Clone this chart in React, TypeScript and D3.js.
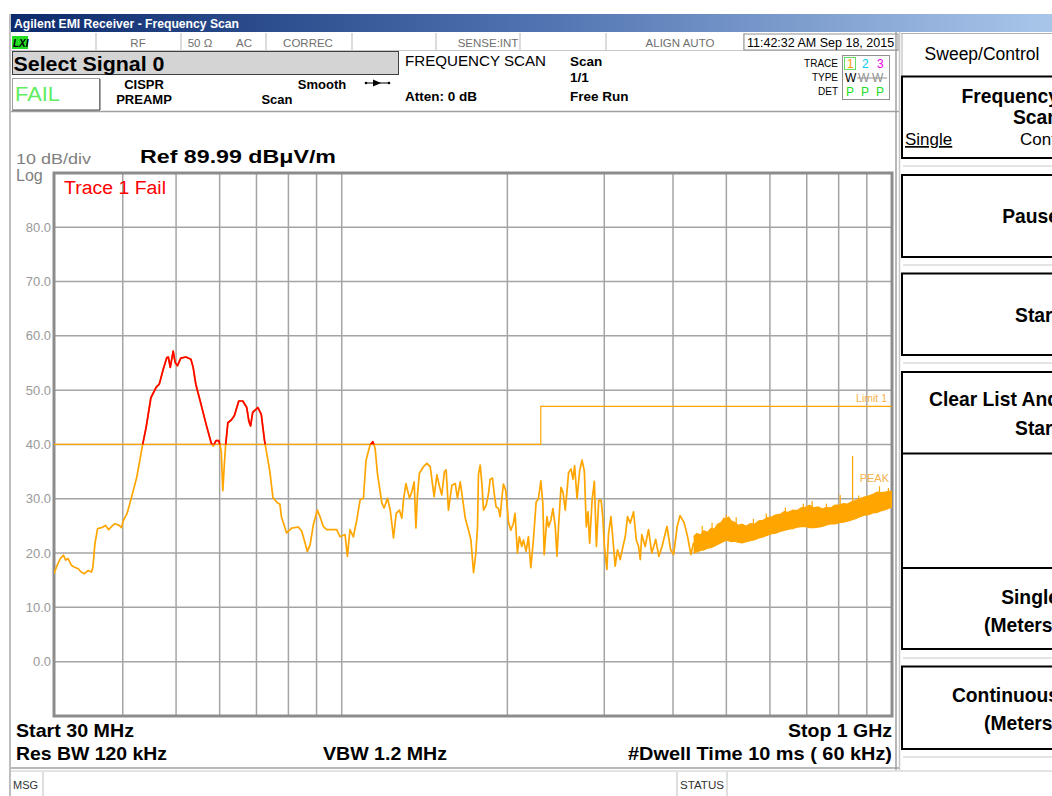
import React from 'react';
import * as d3 from 'd3';

// ---------- data ----------
const startFreq = 30;
const stopFreq = 1000;
const refLevel = 89.99;
const dbPerDiv = 10;

const traceFreq = [
  30.0, 30.3, 30.8, 31.2, 31.5, 31.8, 32.3, 32.7, 33.2, 33.6, 34.1, 34.6, 35.1, 35.3, 35.6, 36.0, 36.7, 37.2, 37.7, 38.2,
  38.7, 39.4, 39.8, 40.1, 40.7, 41.2, 41.8, 42.4, 43.5, 44.1, 45.0, 46.0, 46.6, 47.4, 48.1, 48.4, 48.8, 49.1, 49.4, 49.8,
  50.3, 51.0, 52.1, 53.2, 53.7, 54.3, 55.5, 56.7, 57.9, 58.4, 59.1, 59.8, 60.4, 60.8, 61.2, 61.5, 62.1, 63.0, 63.8, 65.0,
  66.1, 67.2, 67.8, 68.3, 68.9, 70.4, 71.4, 72.4, 74.0, 75.0, 76.3, 77.2, 77.7, 79.4, 81.1, 83.4, 84.6, 85.8, 86.6, 87.6,
  88.8, 90.3, 91.3, 92.6, 93.9, 95.9, 97.9, 99.3, 101.4, 102.4, 103.5, 105.0, 106.5, 108.0, 109.5, 110.7, 112.6, 113.9, 115.0, 116.1,
  118.3, 119.4, 121.1, 122.5, 124.2, 125.6, 127.3, 128.6, 129.5, 130.8, 132.8, 134.1, 135.4, 136.4, 137.3, 138.4, 140.8, 142.8, 144.8, 147.2,
  148.9, 150.6, 152.0, 153.7, 154.8, 156.3, 158.6, 160.8, 162.3, 164.2, 167.7, 170.0, 171.7, 173.6, 175.3, 176.5, 177.2, 178.5, 179.8, 181.0,
  183.0, 184.8, 186.1, 187.9, 189.3, 190.8, 192.7, 194.0, 195.4, 196.7, 198.7, 200.9, 202.9, 205.1, 206.5, 208.6, 210.3, 212.4, 213.9, 216.3,
  218.4, 220.6, 223.0, 225.6, 227.7, 230.1, 232.0, 233.3, 236.0, 237.6, 240.0, 242.0, 244.4, 246.1, 247.8, 250.3, 252.4, 254.8, 256.7, 258.4,
  261.0, 263.2, 265.0, 267.7, 270.6, 273.3, 276.0, 278.3, 280.3, 282.2, 285.1, 287.8, 290.3, 293.1, 296.1, 298.1, 300.2, 303.3, 305.4, 308.5,
  311.1, 314.0, 317.1, 320.7, 324.4, 327.5, 330.7, 334.4, 339.1, 343.0, 346.3, 348.8, 351, 356, 361, 366, 372, 377, 382, 390,
  396, 401, 407, 412, 419, 425, 431, 436
];
const traceLevel = [
  16.2, 17.4, 19.0, 19.6, 18.7, 19.0, 17.7, 17.4, 17.1, 16.5, 16.2, 16.8, 16.5, 17.4, 21.7, 24.5, 24.7, 25.1, 24.3, 24.9,
  25.4, 25.1, 24.7, 26.0, 27.2, 29.1, 31.5, 33.9, 40.1, 43.1, 48.6, 50.5, 51.1, 53.9, 56.0, 56.1, 54.2, 55.7, 57.2, 55.1,
  54.5, 55.9, 56.1, 55.7, 54.2, 51.1, 47.4, 43.7, 40.3, 39.7, 40.7, 40.7, 38.8, 31.5, 36.4, 39.7, 44.0, 44.5, 45.3, 48.0,
  48.0, 46.8, 44.3, 43.4, 45.9, 46.8, 45.6, 40.7, 35.1, 30.2, 29.3, 29.0, 26.7, 23.7, 24.6, 24.8, 24.0, 21.8, 20.3, 21.5,
  25.2, 27.9, 26.7, 24.9, 24.3, 24.3, 24.3, 23.0, 23.4, 19.4, 24.3, 23.0, 26.1, 29.8, 30.1, 37.1, 39.9, 40.5, 39.3, 34.7,
  29.2, 28.3, 30.1, 27.9, 22.8, 27.3, 27.9, 26.4, 29.8, 32.8, 30.1, 31.3, 33.1, 24.6, 30.7, 34.7, 35.9, 36.5, 35.9, 30.4,
  34.4, 32.2, 30.7, 35.0, 35.3, 27.9, 32.5, 32.8, 30.1, 33.1, 26.4, 24.2, 22.4, 16.4, 20.0, 24.8, 34.5, 36.2, 32.7, 27.9,
  28.8, 30.9, 33.6, 33.8, 30.9, 28.5, 28.2, 26.7, 30.0, 32.7, 31.5, 25.7, 24.2, 25.5, 27.3, 20.0, 23.0, 21.2, 22.4, 20.3,
  23.0, 17.3, 22.4, 29.4, 30.0, 33.3, 29.1, 19.7, 26.7, 24.8, 26.1, 28.2, 24.8, 19.4, 25.1, 32.1, 31.2, 27.9, 31.5, 34.8,
  35.5, 33.6, 36.1, 30.0, 35.1, 37.1, 35.1, 24.8, 27.6, 21.8, 29.7, 33.2, 21.2, 29.7, 29.7, 26.7, 21.2, 17.0, 23.6, 26.7,
  22.4, 17.6, 20.6, 18.8, 21.2, 23.0, 26.7, 25.5, 27.6, 22.4, 21.2, 18.8, 23.4, 21.2, 24.3, 20.0, 22.5, 19.4, 21.2, 24.9,
  20.6, 19.7, 24.9, 26.9, 25.6, 23.1, 19.7, 21.9
];

// dense noise band above ~436 MHz: upper and lower edge
const bandFreq = [
  436, 442, 449, 455, 462, 469, 476, 482, 489, 495, 500, 505, 510, 518, 525, 534, 543, 553, 563, 573,
  583, 594, 604, 615, 626, 637, 648, 660, 672, 684, 696, 708, 721, 734, 747, 760, 774, 788, 802, 816,
  830, 845, 860, 875, 891, 907, 923, 940, 956, 973, 990, 1000
];
const bandUpper = [
  23.0, 23.6, 23.3, 24.1, 23.8, 24.5, 24.4, 25.3, 25.6, 26.4, 26.3, 26.6, 25.9, 25.6, 25.1, 25.3, 24.9, 25.4, 25.3, 25.9,
  26.0, 26.5, 26.6, 27.0, 27.1, 27.6, 27.5, 27.9, 27.8, 28.3, 28.4, 28.8, 28.3, 28.5, 28.1, 28.4, 28.3, 28.8, 28.8, 29.1,
  29.0, 29.4, 29.7, 30.0, 30.3, 30.5, 30.8, 31.2, 31.1, 31.2, 31.4, 31.3
];
const bandLower = [
  20.0, 20.2, 20.5, 20.6, 20.9, 21.0, 21.3, 21.6, 21.9, 22.2, 22.4, 22.3, 22.1, 22.2, 22.0, 21.9, 22.1, 22.3, 22.5, 22.8,
  23.0, 23.3, 23.6, 23.7, 24.0, 24.2, 24.4, 24.5, 24.8, 24.9, 24.9, 24.7, 24.7, 24.8, 24.9, 25.2, 25.4, 25.4, 25.6, 25.7,
  25.9, 26.1, 26.4, 26.7, 27.0, 27.1, 27.4, 27.5, 27.8, 28.0, 28.3, 28.5
];
// short noise peaks sticking out of the band
const spikeFreq = [452, 471, 500, 521, 560, 591, 640, 690, 716, 760, 805, 848, 870, 890, 949, 985];
const spikeTop = [25.0, 25.6, 27.0, 26.6, 26.3, 27.3, 28.4, 29.1, 29.6, 29.1, 30.7, 37.9, 30.6, 29.9, 32.3, 32.0];
const spikeBase = [23.5, 24.2, 25.5, 25.0, 24.8, 26.0, 27.3, 28.0, 28.0, 28.0, 28.5, 29.0, 29.5, 30.0, 30.8, 31.0];

const limitFreq = [30, 230, 230, 1000];
const limitLevel = [40, 40, 47, 47];

const yTickValues = [80, 70, 60, 50, 40, 30, 20, 10, 0];
const xGridValues = [40, 50, 60, 70, 80, 90, 100, 200, 300, 400, 500, 600, 700, 800, 900];

const statusLabels = ['RF', '50 Ω', 'AC', 'CORREC', 'SENSE:INT', 'ALIGN AUTO'];

// ---------- layout ----------
const W = 1052;
const H = 796;
const PL = 54, PR = 892, PT = 173, PB = 716;
const SANS = "'Liberation Sans', Arial, Helvetica, sans-serif";
const ORANGE = '#FFA500';

export default function App() {
  const x = d3.scaleLog().domain([startFreq, stopFreq]).range([PL, PR]);
  const y = d3.scaleLinear().domain([refLevel - 10 * dbPerDiv, refLevel]).range([PB, PT]);

  const tracePts: [number, number][] = traceFreq.map((f, i) => [f, traceLevel[i]]);
  const line = d3.line<[number, number]>().x(d => x(d[0])).y(d => y(d[1]));
  const tracePath = line(tracePts) || '';

  const band = d3.area<number>()
    .x((_, i) => x(bandFreq[i]))
    .y0((_, i) => y(bandLower[i]))
    .y1((_, i) => y(bandUpper[i]));
  const bandPath = band(bandFreq) || '';
  const bandUpLine = d3.line<number>().x((_, i) => x(bandFreq[i])).y((_, i) => y(bandUpper[i]))(bandFreq) || '';
  const bandLoLine = d3.line<number>().x((_, i) => x(bandFreq[i])).y((_, i) => y(bandLower[i]))(bandFreq) || '';

  const limitPts: [number, number][] = limitFreq.map((f, i) => [f, limitLevel[i]]);
  const limitPath = line(limitPts) || '';
  const overArea = d3.area<[number, number]>().x(d => x(d[0])).y0(PT - 5).y1(d => y(d[1]))(limitPts) || '';

  const sepX = [96, 181, 266, 352, 436, 520, 606, 744];
  const labelX = [138, 200, 244, 308, 488, 680];

  const btn = (top: number, bottom: number) => (
    <rect x={902} y={top} width={160} height={bottom - top} fill="#fff" stroke="#000" strokeWidth={2} />
  );
  const boldR = (txt: string, yy: number) => (
    <text x={1059} y={yy} textAnchor="end" fontFamily={SANS} fontWeight="bold" fontSize={19.3} fill="#000">{txt}</text>
  );
  const bottomText = (txt: string, xx: number, yy: number, len: number, anchor: string = 'start') => (
    <text x={xx} y={yy} textAnchor={anchor} fontFamily={SANS} fontWeight="bold" fontSize={18.5}
      textLength={len} lengthAdjust="spacingAndGlyphs" fill="#000">{txt}</text>
  );

  return (
    <div style={{ position: 'absolute', left: 0, top: 0 }}>
      <svg width={W} height={H} viewBox={`0 0 ${W} ${H}`} style={{ display: 'block', background: '#fff' }}>
        <defs>
          <linearGradient id="tb" x1="0" x2="1" y1="0" y2="0">
            <stop offset="0" stopColor="#0b2a6c" />
            <stop offset="0.5" stopColor="#4f72b0" />
            <stop offset="1" stopColor="#a9c6ea" />
          </linearGradient>
          <clipPath id="over"><path d={overArea} /></clipPath>
          <clipPath id="plotclip"><rect x={PL} y={PT} width={PR - PL} height={PB - PT} /></clipPath>
        </defs>

        {/* window frame */}
        <rect x={0} y={0} width={W} height={H} fill="#fff" />
        <line x1={10} y1={14} x2={10} y2={H} stroke="#a8a8a8" strokeWidth={1.5} />
        {/* title bar */}
        <rect x={11} y={14} width={W - 11} height={18} fill="url(#tb)" />
        <text x={14} y={27.5} fontFamily={SANS} fontWeight="bold" fontSize={12} fill="#fff"
          textLength={225} lengthAdjust="spacingAndGlyphs">Agilent EMI Receiver  - Frequency Scan</text>

        {/* status row */}
        <line x1={11} y1={50.5} x2={899} y2={50.5} stroke="#c8c8c8" />
        <rect x={12} y={36} width={16} height={13} fill="#22dd22" />
        <text x={13} y={47} fontFamily={SANS} fontWeight="bold" fontStyle="italic" fontSize={10} fill="#000">LXI</text>
        {sepX.map((sx, i) => (
          <line key={i} x1={sx} y1={33} x2={sx} y2={50} stroke="#b8b8b8" />
        ))}
        {statusLabels.map((c, i) => (
          <text key={i} x={labelX[i]} y={46.5} textAnchor="middle" fontFamily={SANS} fontSize={11.5} fill="#707070">{c}</text>
        ))}
        <rect x={744} y={34} width={154} height={16} fill="#fff" stroke="#909090" />
        <text x={747} y={47} fontFamily={SANS} fontSize={12.5} fill="#000">11:42:32 AM Sep 18, 2015</text>

        {/* select signal */}
        <rect x={12.5} y={51.5} width={386} height={23} fill="#d4d4d4" stroke="#404040" />
        <text x={13.5} y={71} fontFamily={SANS} fontWeight="bold" fontSize={20.5} fill="#000"
          textLength={151} lengthAdjust="spacingAndGlyphs">Select Signal 0</text>
        <rect x={12.5} y={78.5} width={87} height={32} fill="#fff" stroke="#a0a0a0" />
        <line x1={13} y1={110} x2={100} y2={110} stroke="#505050" />
        <line x1={100} y1={79} x2={100} y2={110} stroke="#505050" />
        <text x={15} y={101} fontFamily={SANS} fontSize={21} fill="#5eee5e" textLength={45} lengthAdjust="spacingAndGlyphs">FAIL</text>
        <text x={144} y={89} textAnchor="middle" fontFamily={SANS} fontWeight="bold" fontSize={13} fill="#000">CISPR</text>
        <text x={144} y={104} textAnchor="middle" fontFamily={SANS} fontWeight="bold" fontSize={13} fill="#000">PREAMP</text>
        <text x={322} y={89} textAnchor="middle" fontFamily={SANS} fontWeight="bold" fontSize={13} fill="#000">Smooth</text>
        <text x={277} y={104} textAnchor="middle" fontFamily={SANS} fontWeight="bold" fontSize={13} fill="#000">Scan</text>
        <line x1={365} y1={83} x2={390} y2={83} stroke="#000" strokeWidth={1} />
        <circle cx={366} cy={83} r={1.3} fill="#000" />
        <circle cx={389} cy={83} r={1.3} fill="#000" />
        <path d="M373,79.5 L381,83 L373,86.5 Z" fill="#000" />

        <text x={405} y={66} fontFamily={SANS} fontSize={14.5} fill="#000" textLength={141} lengthAdjust="spacingAndGlyphs">FREQUENCY SCAN</text>
        <text x={405} y={101} fontFamily={SANS} fontWeight="bold" fontSize={13.5} fill="#000">Atten: 0 dB</text>
        <text x={570} y={66} fontFamily={SANS} fontWeight="bold" fontSize={13.5} fill="#000">Scan</text>
        <text x={570} y={82} fontFamily={SANS} fontWeight="bold" fontSize={13.5} fill="#000">1/1</text>
        <text x={570} y={101} fontFamily={SANS} fontWeight="bold" fontSize={13.5} fill="#000">Free Run</text>

        <text x={838} y={67} textAnchor="end" fontFamily={SANS} fontSize={10} fill="#000">TRACE</text>
        <text x={838} y={81} textAnchor="end" fontFamily={SANS} fontSize={10} fill="#000">TYPE</text>
        <text x={838} y={95} textAnchor="end" fontFamily={SANS} fontSize={10} fill="#000">DET</text>
        <rect x={842.5} y={55.5} width={47} height={44} fill="#fff" stroke="#909090" />
        <rect x={844.5} y={57.5} width={11} height={12} fill="none" stroke="#66dd66" />
        <text x={847} y={68} fontFamily={SANS} fontSize={12} fill="#ff9900">1</text>
        <text x={862} y={68} fontFamily={SANS} fontSize={12} fill="#00ccee">2</text>
        <text x={877} y={68} fontFamily={SANS} fontSize={12} fill="#ee00ee">3</text>
        <text x={845} y={82} fontFamily={SANS} fontSize={12} fill="#000">W</text>
        <text x={858} y={82} fontFamily={SANS} fontSize={12} fill="#909090">W</text>
        <text x={872} y={82} fontFamily={SANS} fontSize={12} fill="#909090">W</text>
        <line x1={857} y1={78} x2={887} y2={78} stroke="#909090" />
        <text x={846} y={96} fontFamily={SANS} fontSize={12} fill="#22dd22">P</text>
        <text x={861} y={96} fontFamily={SANS} fontSize={12} fill="#22dd22">P</text>
        <text x={876} y={96} fontFamily={SANS} fontSize={12} fill="#22dd22">P</text>

        {/* main panel frame */}
        <line x1={11} y1={111.5} x2={899} y2={111.5} stroke="#a0a0a0" strokeWidth={1.5} />
        <line x1={896} y1={32} x2={896} y2={770} stroke="#a0a0a0" strokeWidth={1.5} />
        <line x1={899.5} y1={32} x2={899.5} y2={770} stroke="#c8c8c8" strokeWidth={1.5} />
        <line x1={11} y1={768} x2={899} y2={768} stroke="#a0a0a0" strokeWidth={1.5} />
        <line x1={11} y1={771} x2={1052} y2={771} stroke="#c8c8c8" strokeWidth={1} />

        {/* plot labels */}
        <text x={16} y={164} fontFamily={SANS} fontSize={15.5} fill="#808080" textLength={75} lengthAdjust="spacingAndGlyphs">10 dB/div</text>
        <text x={16} y={181} fontFamily={SANS} fontSize={16} fill="#808080">Log</text>
        <text x={140} y={163} fontFamily={SANS} fontWeight="bold" fontSize={18.5} fill="#000"
          textLength={196} lengthAdjust="spacingAndGlyphs">Ref 89.99 dBμV/m</text>

        {/* grid */}
        {yTickValues.map(v => (
          <g key={'y' + v}>
            <line x1={PL} x2={PR} y1={y(v)} y2={y(v)} stroke="#a4a4a4" strokeWidth={1.5} />
            <text x={51} y={y(v) + 4.5} textAnchor="end" fontFamily={SANS} fontSize={13} fill="#999">{v.toFixed(1)}</text>
          </g>
        ))}
        {xGridValues.map(f => (
          <line key={'x' + f} x1={x(f)} x2={x(f)} y1={PT} y2={PB} stroke="#a4a4a4" strokeWidth={1.5} />
        ))}
        <rect x={PL} y={PT} width={PR - PL} height={PB - PT} fill="none" stroke="#8c8c8c" strokeWidth={3} />

        {/* trace */}
        <g clipPath="url(#plotclip)">
          <path d={limitPath} fill="none" stroke={ORANGE} strokeWidth={1.2} />
          <path d={bandPath} fill={ORANGE} stroke="none" />
          <path d={bandUpLine} fill="none" stroke={ORANGE} strokeWidth={1.4} />
          <path d={bandLoLine} fill="none" stroke={ORANGE} strokeWidth={1.4} />
          {spikeFreq.map((f, i) => (
            <line key={'s' + i} x1={x(f)} x2={x(f)} y1={y(spikeBase[i])} y2={y(spikeTop[i])} stroke={ORANGE} strokeWidth={1.2} />
          ))}
          <path d={tracePath} fill="none" stroke={ORANGE} strokeWidth={1.7} strokeLinejoin="round" />
          <g clipPath="url(#over)">
            <path d={tracePath} fill="none" stroke="#ff0000" strokeWidth={1.7} strokeLinejoin="round" />
          </g>
        </g>
        <text x={887} y={402} textAnchor="end" fontFamily={SANS} fontSize={10.5} fill="#f5b24a">Limit 1</text>
        <text x={889} y={482} textAnchor="end" fontFamily={SANS} fontSize={11} fill="#f5b24a">PEAK</text>
        <text x={64} y={194} fontFamily={SANS} fontSize={18} fill="#ff0000" textLength={102} lengthAdjust="spacingAndGlyphs">Trace 1 Fail</text>

        {/* bottom annotations */}
        {bottomText('Start 30 MHz', 16, 737, 118)}
        {bottomText('Stop 1 GHz', 892, 737, 104, 'end')}
        {bottomText('Res BW 120 kHz', 16, 760, 151)}
        {bottomText('VBW 1.2 MHz', 323, 760, 124)}
        {bottomText('#Dwell Time 10 ms ( 60 kHz)', 892, 760, 264, 'end')}

        {/* message bar */}
        <line x1={43} y1={772} x2={43} y2={796} stroke="#c0c0c0" />
        <line x1={677} y1={772} x2={677} y2={796} stroke="#c0c0c0" />
        <line x1={727} y1={772} x2={727} y2={796} stroke="#c0c0c0" />
        <text x={13} y={789} fontFamily={SANS} fontSize={10} fill="#333" textLength={25} lengthAdjust="spacingAndGlyphs">MSG</text>
        <text x={680} y={789} fontFamily={SANS} fontSize={10} fill="#333" textLength={44} lengthAdjust="spacingAndGlyphs">STATUS</text>

        {/* right soft-key panel */}
        <line x1={901} y1={33.5} x2={1052} y2={33.5} stroke="#b0b0b0" />
        <line x1={902} y1={34} x2={902} y2={76} stroke="#b0b0b0" />
        <text x={982} y={60} textAnchor="middle" fontFamily={SANS} fontSize={17.5} fill="#000">Sweep/Control</text>
        {btn(76.5, 158)}
        {boldR('Frequency', 103)}
        {boldR('Scan', 124)}
        <text x={905} y={145} fontFamily={SANS} fontSize={17} fill="#000" textDecoration="underline">Single</text>
        <text x={1020} y={145} fontFamily={SANS} fontSize={17} fill="#000">Cont</text>
        <line x1={903} y1={166} x2={1052} y2={166} stroke="#c8c8c8" />
        {btn(175, 257)}
        {boldR('Pause', 223)}
        <line x1={903} y1={265} x2={1052} y2={265} stroke="#c8c8c8" />
        {btn(273.5, 355)}
        {boldR('Start', 322)}
        <line x1={903} y1={363} x2={1052} y2={363} stroke="#c8c8c8" />
        {btn(372, 453.5)}
        {boldR('Clear List And', 406)}
        {boldR('Start', 435)}
        <line x1={902} y1={454} x2={902} y2={568} stroke="#000" strokeWidth={2} />
        {btn(568, 649)}
        {boldR('Single', 604)}
        {boldR('(Meters)', 632)}
        <line x1={903} y1={658} x2={1052} y2={658} stroke="#c8c8c8" />
        {btn(666.5, 749)}
        {boldR('Continuous', 702)}
        {boldR('(Meters)', 730)}
        <line x1={903} y1={757} x2={1052} y2={757} stroke="#c8c8c8" />
      </svg>
    </div>
  );
}
